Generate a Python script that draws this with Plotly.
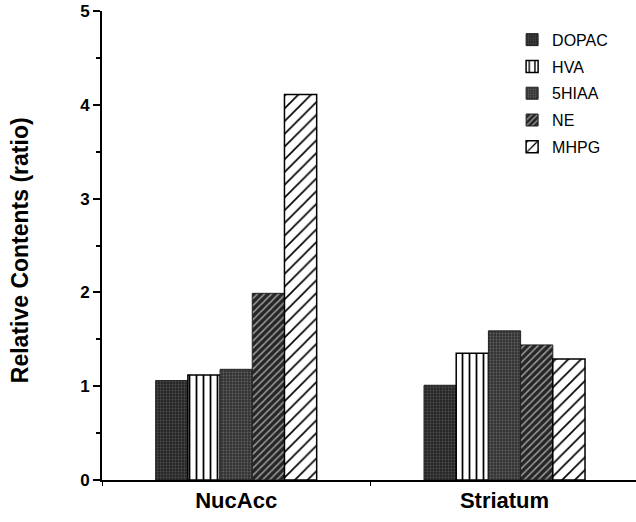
import plotly.graph_objects as go

regions = ["NucAcc", "Striatum"]
series = ["DOPAC", "HVA", "5HIAA", "NE", "MHPG"]
values = {
    "DOPAC": [1.06, 1.01],
    "HVA": [1.12, 1.35],
    "5HIAA": [1.18, 1.59],
    "NE": [1.99, 1.44],
    "MHPG": [4.11, 1.29],
}
y_ticks = [0, 1, 2, 3, 4, 5]
y_title = "Relative Contents (ratio)"

styles = {
    "DOPAC": dict(color="#262626", pattern=dict(shape=".", fgcolor="#505050", size=3, solidity=0.3), line=dict(color="#222", width=1)),
    "HVA": dict(color="white", pattern=dict(shape="|", fgcolor="black", size=7, solidity=0.25), line=dict(color="black", width=1.5)),
    "5HIAA": dict(color="#333333", pattern=dict(shape=".", fgcolor="#626262", size=3, solidity=0.3), line=dict(color="#222", width=1)),
    "NE": dict(color="#262626", pattern=dict(shape="/", fgcolor="#9a9a9a", size=5, solidity=0.3), line=dict(color="#222", width=1)),
    "MHPG": dict(color="white", pattern=dict(shape="/", fgcolor="black", size=9, solidity=0.18), line=dict(color="black", width=1.5)),
}

fig = go.Figure()
for i, s in enumerate(series):
    st = styles[s]
    fig.add_trace(go.Bar(
        name=s, x=regions, y=values[s], legendgroup=s,
        marker=dict(color=st["color"], pattern=dict(fillmode="replace", bgcolor=st["color"], **st["pattern"]), line=st["line"]),
    ))

font = "Liberation Sans, Arial, Helvetica, sans-serif"
fig.update_layout(
    width=636, height=522,
    margin=dict(l=102, r=0, t=11, b=42),
    paper_bgcolor="white", plot_bgcolor="white",
    barmode="group", bargap=0.4, bargroupgap=0,
    font=dict(family=font, color="black"),
    legend=dict(x=0.768, y=0.975, xanchor="left", yanchor="top", font=dict(size=16), tracegroupgap=3,
                bgcolor="rgba(0,0,0,0)", traceorder="grouped"),
    xaxis=dict(range=[-0.5, 1.49], showline=True, linecolor="black", linewidth=2,
               ticks="outside", tickson="boundaries", ticklen=4, tickcolor="black",
               tickfont=dict(size=22, weight="bold"), showgrid=False, zeroline=False, automargin=False),
    yaxis=dict(range=[0, 5], tickvals=y_ticks, showline=True, linecolor="black", linewidth=2,
               ticks="outside", ticklen=7, tickwidth=1.5, tickcolor="black",
               minor=dict(dtick=0.5, ticks="outside", ticklen=4, tickcolor="black"),
               tickfont=dict(size=17, weight="bold"), showgrid=False, zeroline=False, automargin=False),
    annotations=[dict(text=y_title, xref="paper", yref="paper", x=0, y=0.49, xanchor="center", yanchor="middle",
                      xshift=-82, textangle=-90, showarrow=False, font=dict(size=23, weight="bold"))],
)
fig.write_html("out.html", config={"displayModeBar": False}, post_script="document.body.style.margin='0';")
